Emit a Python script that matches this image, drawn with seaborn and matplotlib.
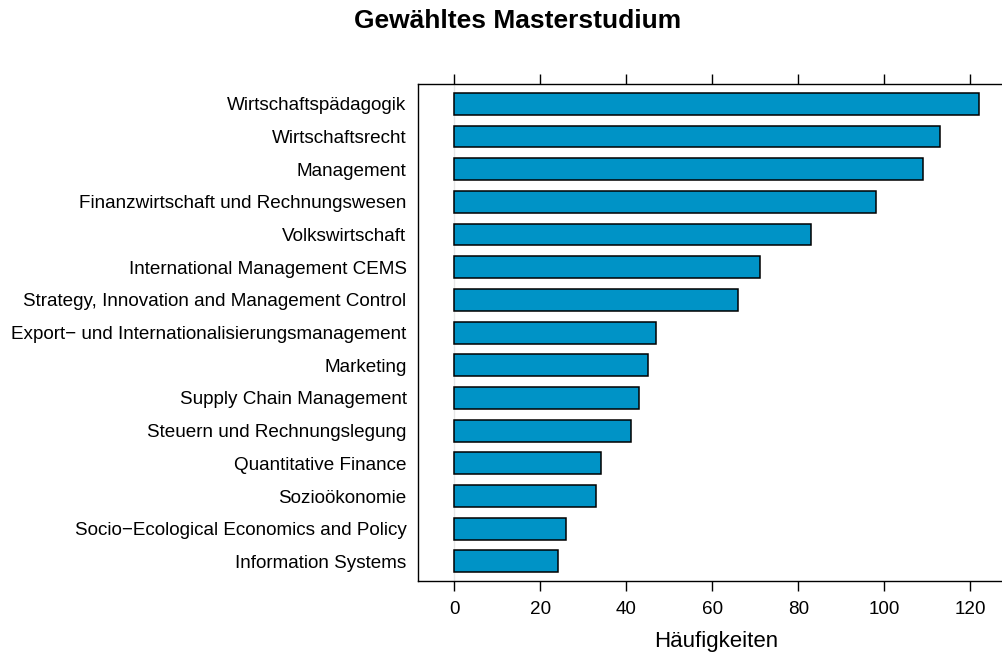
import matplotlib
matplotlib.use('Agg')
import matplotlib.pyplot as plt
import seaborn as sns
import pandas as pd

# Data (top to bottom)
studies = [
    'Wirtschaftspädagogik',
    'Wirtschaftsrecht',
    'Management',
    'Finanzwirtschaft und Rechnungswesen',
    'Volkswirtschaft',
    'International Management CEMS',
    'Strategy, Innovation and Management Control',
    'Export\u2212 und Internationalisierungsmanagement',
    'Marketing',
    'Supply Chain Management',
    'Steuern und Rechnungslegung',
    'Quantitative Finance',
    'Sozioökonomie',
    'Socio\u2212Ecological Economics and Policy',
    'Information Systems',
]
counts = [122, 113, 109, 98, 83, 71, 66, 47, 45, 43, 41, 34, 33, 26, 24]
x_ticks = [0, 20, 40, 60, 80, 100, 120]

df = pd.DataFrame({'study': studies, 'count': counts})

sns.set_style('white')
plt.rcParams['font.family'] = ['Liberation Sans', 'DejaVu Sans']
plt.rcParams['text.color'] = 'black'
plt.rcParams['axes.labelcolor'] = 'black'
plt.rcParams['xtick.color'] = 'black'
plt.rcParams['ytick.color'] = 'black'

fig = plt.figure(figsize=(10.03, 6.59), dpi=100)
ax = fig.add_axes([0.4164, 0.1184, 0.5961, 0.7537])

# light reference line at zero
ax.axvline(0, color='#e6e6e6', lw=1, zorder=0)

sns.barplot(data=df, x='count', y='study', orient='h', order=studies,
            color='#0093C6', saturation=1, width=2/3,
            edgecolor='black', linewidth=1.1, ax=ax, zorder=2)

ax.set_xlim(-8.54, 130.54)
ax.set_ylim(len(studies) - 0.4, -0.6)
ax.set_xticks(x_ticks)
ax.set_xticklabels([str(t) for t in x_ticks])

ax.tick_params(axis='x', which='both', direction='out', length=7.5, width=1,
               color='black', top=True, bottom=True, labeltop=False,
               labelsize=13.6, pad=7)
ax.tick_params(axis='y', length=0, labelsize=13.6, pad=8)

for s in ax.spines.values():
    s.set_visible(True)
    s.set_color('black')
    s.set_linewidth(1)

ax.set_ylabel('')
ax.set_xlabel('Häufigkeiten', fontsize=16, labelpad=9)

fig.text(0.516, 0.968, 'Gewähltes Masterstudium', ha='center', va='center',
         fontsize=19, fontweight='bold')

fig.savefig('out.png', dpi=100)
